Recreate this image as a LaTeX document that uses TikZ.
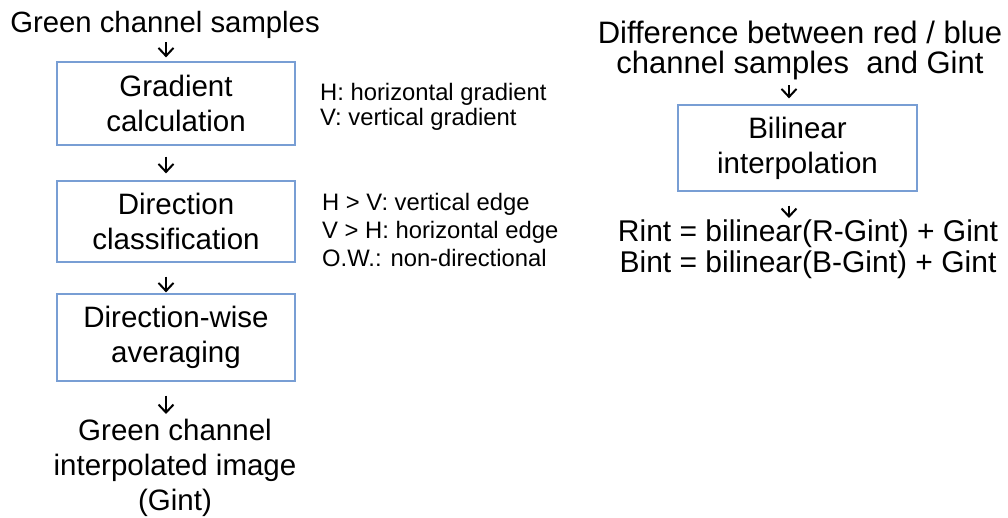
\documentclass[tikz,border=0pt]{standalone}
\usepackage{fontspec}
\setmainfont{Liberation Sans}
\usetikzlibrary{arrows.meta,calc}
\definecolor{boxblue}{RGB}{120,158,212}
\begin{document}
\begin{tikzpicture}[x=1pt,y=-1pt,
  bigtext/.style={font=\fontsize{29.5}{35}\selectfont},
  notetext/.style={font=\fontsize{23.8}{25}\selectfont},
  stepbox/.style={draw=boxblue,line width=1.2pt,minimum width=238pt,inner sep=0pt,align=center,bigtext},
  txt/.style={inner sep=0pt,align=center,bigtext},
  note/.style={inner sep=0pt,align=left,notetext},
  arr/.style={-{Straight Barb[length=8pt,width=15pt,line width=2pt]},line width=2pt}]
\useasboundingbox (0,0) rectangle (1008,518);
% left column
\node[txt,anchor=base,font=\fontsize{29.3}{35}\selectfont] (t0) at (165,33) {Green channel samples};
\node[stepbox,minimum height=83pt] (b1) at (176,103.5) {Gradient\\calculation};
\node[stepbox,minimum height=81pt] (b2) at (176,221.5) {Direction\\classification};
\node[stepbox,minimum height=87pt] (b3) at (176,337.5) {Direction-wise\\averaging};
\node[txt,anchor=north,font=\fontsize{29.5}{35}\selectfont] (gout) at (175,419) {Green channel\\interpolated image\\(Gint)};
% notes
\node[note,anchor=north west] (n1) at (320,83) {H: horizontal gradient\\V: vertical gradient};
\node[note,anchor=north west,font=\fontsize{23.8}{28}\selectfont] (n2) at (322,193) {H > V: vertical edge\\V > H: horizontal edge\\O.W.: non-directional};
% right column
\node[txt,anchor=north,font=\fontsize{31}{30}\selectfont] (r0) at (800,21) {Difference between red / blue\\channel samples\ \ and Gint};
\node[stepbox,minimum height=86pt,minimum width=239pt] (rb) at (797.5,148) {Bilinear\\interpolation};
\node[txt,anchor=north,font=\fontsize{30}{31}\selectfont] (ro) at (808,220) {Rint = bilinear(R-Gint) + Gint\\Bint = bilinear(B-Gint) + Gint};
% arrows
\draw[arr,shorten <=3pt,shorten >=4pt] ($(b1.north |- t0.south)+(-10,0)$) -- ($(b1.north)+(-10,0)$);
\draw[arr,shorten <=11pt,shorten >=7pt] ($(b1.south)+(-10,0)$) -- ($(b2.north)+(-10,0)$);
\draw[arr,shorten <=14pt,shorten >=1pt] ($(b2.south)+(-10,0)$) -- ($(b3.north)+(-10,0)$);
\draw[arr,shorten <=14pt,shorten >=5pt] ($(b3.south)+(-10,0)$) -- ($(b3.south |- gout.north)+(-10,0)$);
\draw[arr,shorten <=5pt,shorten >=6pt] ($(rb.north |- r0.south)+(-8.5,0)$) -- ($(rb.north)+(-8.5,0)$);
\draw[arr,shorten <=14pt,shorten >=2pt] ($(rb.south)+(-8.5,0)$) -- ($(rb.south |- ro.north)+(-8.5,0)$);
\end{tikzpicture}
\end{document}
